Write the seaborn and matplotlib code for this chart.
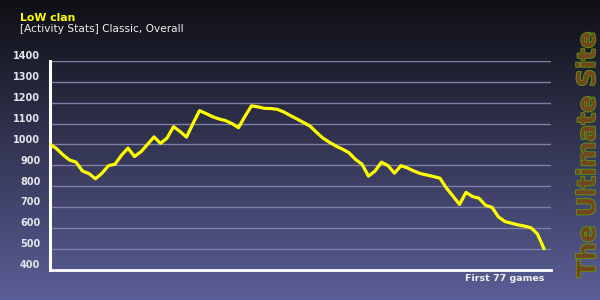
import numpy as np
import pandas as pd
import matplotlib
matplotlib.use("Agg")
import matplotlib.pyplot as plt
import matplotlib.transforms as mtransforms
import matplotlib.patheffects as pe
import seaborn as sns

title = "LoW clan"
subtitle = "[Activity Stats] Classic, Overall"
xlabel = "First 77 games"
watermark = "The Ultimate Site"
y_ticks = [400, 500, 600, 700, 800, 900, 1000, 1100, 1200, 1300, 1400]
ratings = [1000, 980, 950, 925, 915, 872, 860, 835, 862, 898,
           905, 948, 982, 942, 965, 1000, 1036, 1005, 1030, 1085,
           1062, 1035, 1100, 1162, 1148, 1133, 1122, 1114, 1100, 1080,
           1135, 1185, 1180, 1173, 1172, 1168, 1155, 1138, 1122, 1105,
           1088, 1058, 1030, 1010, 992, 977, 960, 928, 905, 848,
           872, 915, 898, 862, 898, 887, 872, 860, 853, 846,
           838, 790, 752, 712, 770, 750, 742, 708, 698, 652,
           630, 622, 614, 608, 600, 570, 500]
games = list(range(len(ratings)))

df = pd.DataFrame({"game": games, "rating": ratings})

sns.set_theme(style="white")
plt.rcParams["font.family"] = ["DejaVu Sans"]

fig = plt.figure(figsize=(6, 3), dpi=100)

# gradient background
bg = fig.add_axes([0, 0, 1, 1], zorder=0)
top = np.array([15, 15, 20]) / 255
bot = np.array([90, 94, 150]) / 255
t = np.linspace(0, 1, 300)[:, None]
grad = top[None, :] * (1 - t) + bot[None, :] * t
bg.imshow(grad[:, None, :].repeat(2, axis=1), aspect="auto", extent=[0, 1, 0, 1], origin="upper")
bg.set_axis_off()

W, H = 600, 300
ax = fig.add_axes([50 / W, 1 - 269.5 / H, 501 / W, 208.5 / H], zorder=1)
ax.patch.set_alpha(0)

grid_col = "#7f7fa8"
for v in y_ticks[1:]:
    ax.axhline(v, color=grid_col, lw=1.0, zorder=1)

sns.lineplot(data=df, x="game", y="rating", ax=ax, color="#ffff00", lw=2.3, zorder=3)

ax.set_xlim(0, 76 * 501 / 494)
ax.set_ylim(400, 1400)
ax.set_yticks(y_ticks)
ax.set_yticklabels([str(v) for v in y_ticks])
ax.set_xticks([])
ax.set_xlabel("")
ax.set_ylabel("")
ax.tick_params(axis="y", length=6, width=1, color=grid_col, pad=1,
               labelsize=7.0, labelcolor="#e4e4ec")
for lab in ax.get_yticklabels():
    lab.set_fontweight("bold")
    lab.set_transform(lab.get_transform() + mtransforms.ScaledTranslation(0, 4 / 72, fig.dpi_scale_trans))

for s in ["top", "right"]:
    ax.spines[s].set_visible(False)
ax.spines["left"].set_color("white")
ax.spines["left"].set_linewidth(2.2)
ax.spines["bottom"].set_color("white")
ax.spines["bottom"].set_linewidth(2.0)

fig.text(20 / W, 1 - 21 / H, title, color="#ffff00", fontsize=7.8, fontweight="bold",
         ha="left", va="baseline")
fig.text(20 / W, 1 - 32 / H, subtitle, color="#f0f0f0", fontsize=7.6,
         ha="left", va="baseline")
fig.text(544 / W, 1 - 281 / H, xlabel, color="#f0f0f0", fontsize=6.8, fontweight="bold",
         ha="right", va="baseline")

fig.text(588 / W, 1 - 154 / H, watermark, color="#74461e", fontsize=18, fontweight="bold",
         rotation=90, ha="center", va="center",
         path_effects=[pe.withStroke(linewidth=1.2, foreground="#5c9c12")])

fig.savefig("out.png", dpi=100)
